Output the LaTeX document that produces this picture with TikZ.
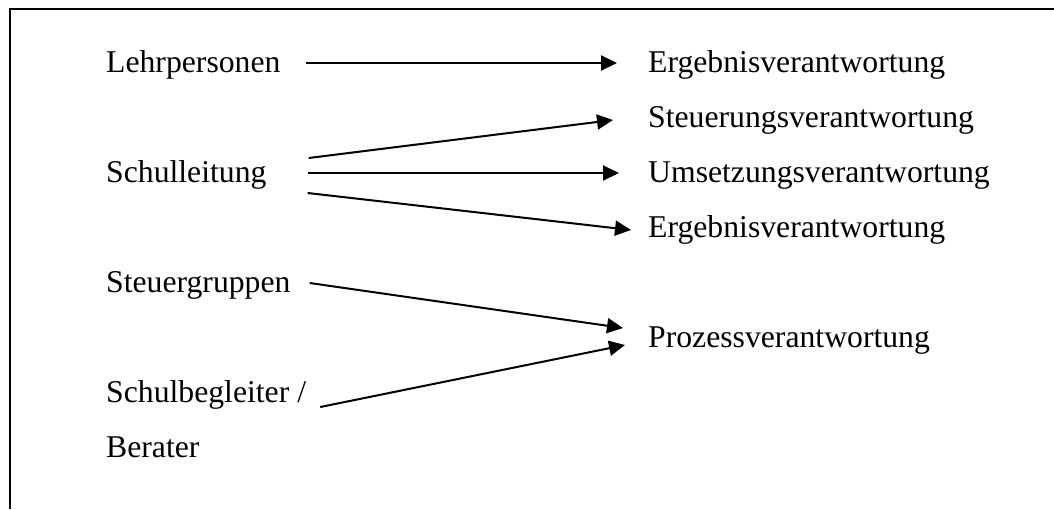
\documentclass[tikz,border=0pt]{standalone}
\usepackage{fontspec}
\setmainfont{Liberation Serif}
\usetikzlibrary{arrows.meta}
\begin{document}
\begin{tikzpicture}[x=1pt,y=-1pt,
  label/.style={anchor=base west,inner sep=0pt,font=\fontsize{31.7pt}{38pt}\selectfont},
  link/.style={line width=2pt,-{Triangle[length=16pt,width=15pt]}},
  frame/.style={line width=2pt}]
\useasboundingbox (0,0) rectangle (1054,509);
% outer frame: open on the right and at the bottom
\draw[frame] (10,509) -- (10,9) -- (1054,9);
% actors
\node[label] (lehr) at (106,72)  {Lehrpersonen};
\node[label] (sl)   at (106,182) {Schulleitung};
\node[label] (sg)   at (106,292) {Steuergruppen};
\node[label] (sb)   at (106,402) {Schulbegleiter /};
\node[label] (ber)  at (106,457) {Berater};
% responsibilities
\node[label] (erg1) at (648,72)  {Ergebnisverantwortung};
\node[label] (steu) at (648,127) {Steuerungsverantwortung};
\node[label] (ums)  at (648,182) {Umsetzungsverantwortung};
\node[label] (erg2) at (648,237) {Ergebnisverantwortung};
\node[label] (proz) at (648,347) {Prozessverantwortung};
% connectors
\draw[link] ([shift={(25,-9)}]lehr.base east) -- ([shift={(-31,-9)}]erg1.base west);
\draw[link] ([shift={(42,-24)}]sl.base east) -- ([shift={(-35,-7)}]steu.base west);
\draw[link] ([shift={(41,-9)}]sl.base east) -- ([shift={(-29,-9)}]ums.base west);
\draw[link] ([shift={(41,11)}]sl.base east) -- ([shift={(-17,-7)}]erg2.base west);
\draw[link] ([shift={(19,-9)}]sg.base east) -- ([shift={(-25,-19)}]proz.base west);
\draw[link] ([shift={(14,5)}]sb.base east) -- ([shift={(-23,-2)}]proz.base west);
\end{tikzpicture}
\end{document}
